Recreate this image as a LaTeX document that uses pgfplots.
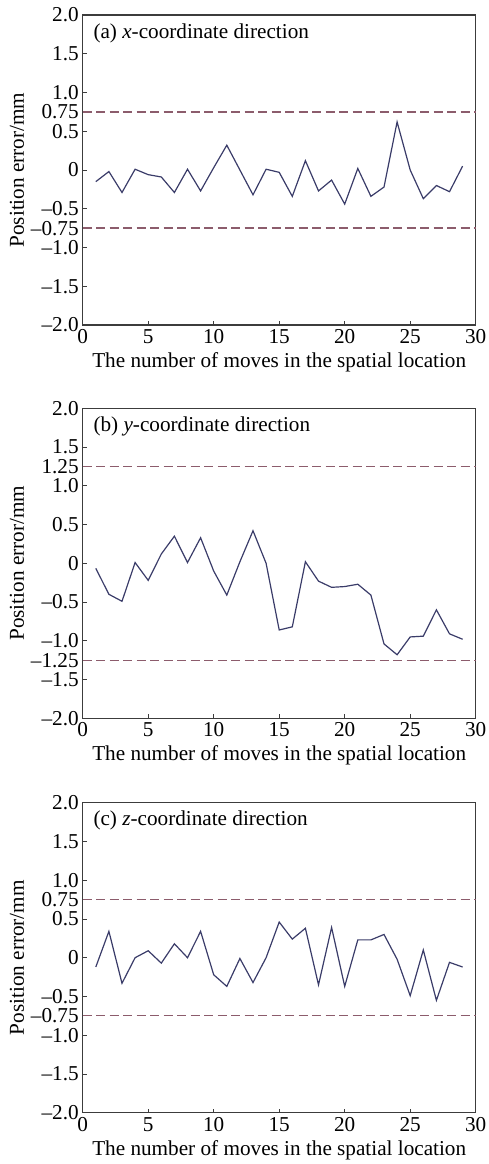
\documentclass[border=0pt]{standalone}
\usepackage{fontspec}
\setmainfont{Liberation Serif}
\usepackage{pgfplots}
\pgfplotsset{compat=1.18}
\definecolor{lineblue}{RGB}{58,60,105}
\definecolor{limitc}{RGB}{140,92,108}
\definecolor{axisgray}{RGB}{60,60,60}
\newcommand{\fs}{\fontsize{21.2}{23}\selectfont}
\pgfplotsset{
  panel/.style={
    scale only axis, width=393pt, height=310pt,
    xmin=0, xmax=30, ymin=-2, ymax=2,
    axis line style={axisgray, line width=1.1pt},
    tick style={axisgray, line width=0.9pt},
    tick align=inside, xtick pos=bottom, ytick pos=left,
    major tick length=4pt,
    xtick={0,5,10,15,20,25,30},
    xticklabels={0,5,10,15,20,25,30},
    tick label style={font=\fs},
    label style={font=\fs},
    xlabel={The number of moves in the spatial location},
    ylabel={Position error/mm},
    xlabel style={at={(axis description cs:0.5,0)}, anchor=north, yshift=-24pt},
    ylabel style={at={(axis description cs:-0.167,0.5)}, anchor=center},
    yticklabel style={xshift=-0.5pt},
    xticklabel style={yshift=-1pt},
    clip=false,
  },
  dataline/.style={lineblue, line width=1.2pt, mark=none},
  limitline/.style={limitc, line width=1.3pt, dash pattern=on 9pt off 4.5pt, mark=none},
}
\begin{document}
\begin{tikzpicture}
\useasboundingbox (0,0) rectangle (488pt,-1164pt);
% ---------- (a)
\begin{axis}[panel, at={(82.7pt,-325pt)}, anchor=south west,
  ytick={-2,-1.5,-1,-0.75,-0.5,0,0.5,0.75,1,1.5,2},
  yticklabels={–2.0,–1.5,–1.0,–0.75,–0.5,0,0.5,0.75,1.0,1.5,2.0}]
\addplot[limitline] coordinates {(0,0.75) (30,0.75)};
\addplot[limitline] coordinates {(0,-0.75) (30,-0.75)};
\addplot[dataline] coordinates {
(1,-0.15) (2,-0.02) (3,-0.29) (4,0.01) (5,-0.06) (6,-0.09) (7,-0.29) (8,0.01)
(9,-0.27) (10,0.03) (11,0.32) (12,0.0) (13,-0.32) (14,0.01) (15,-0.03) (16,-0.34)
(17,0.12) (18,-0.27) (19,-0.13) (20,-0.44) (21,0.02) (22,-0.34) (23,-0.22) (24,0.62)
(25,0.0) (26,-0.37) (27,-0.2) (28,-0.28) (29,0.05)};
\node[anchor=west, inner sep=0pt, font=\fs] at (rel axis cs:0.027,0.942) {(a) \textit{x}-coordinate direction};
\end{axis}
% ---------- (b)
\begin{axis}[panel, at={(82.7pt,-718.3pt)}, anchor=south west,
  ytick={-2,-1.5,-1.25,-1,-0.5,0,0.5,1,1.25,1.5,2},
  yticklabels={–2.0,–1.5,–1.25,–1.0,–0.5,0,0.5,1.0,1.25,1.5,2.0}]
\addplot[limitline] coordinates {(0,1.25) (30,1.25)};
\addplot[limitline] coordinates {(0,-1.25) (30,-1.25)};
\addplot[dataline] coordinates {
(1,-0.065) (2,-0.40) (3,-0.49) (4,0.01) (5,-0.22) (6,0.12) (7,0.35) (8,0.01)
(9,0.33) (10,-0.10) (11,-0.41) (12,0.02) (13,0.42) (14,0.0) (15,-0.86) (16,-0.82)
(17,0.02) (18,-0.23) (19,-0.31) (20,-0.30) (21,-0.27) (22,-0.41) (23,-1.04) (24,-1.18)
(25,-0.95) (26,-0.94) (27,-0.60) (28,-0.91) (29,-0.98)};
\node[anchor=west, inner sep=0pt, font=\fs] at (rel axis cs:0.027,0.942) {(b) \textit{y}-coordinate direction};
\end{axis}
% ---------- (c)
\begin{axis}[panel, at={(82.7pt,-1112.7pt)}, anchor=south west,
  ytick={-2,-1.5,-1,-0.75,-0.5,0,0.5,0.75,1,1.5,2},
  yticklabels={–2.0,–1.5,–1.0,–0.75,–0.5,0,0.5,0.75,1.0,1.5,2.0}]
\addplot[limitline] coordinates {(0,0.75) (30,0.75)};
\addplot[limitline] coordinates {(0,-0.75) (30,-0.75)};
\addplot[dataline] coordinates {
(1,-0.12) (2,0.34) (3,-0.33) (4,0.0) (5,0.09) (6,-0.07) (7,0.18) (8,0.0)
(9,0.34) (10,-0.22) (11,-0.37) (12,-0.01) (13,-0.32) (14,0.0) (15,0.46) (16,0.24)
(17,0.38) (18,-0.35) (19,0.39) (20,-0.37) (21,0.23) (22,0.23) (23,0.30) (24,-0.02)
(25,-0.49) (26,0.10) (27,-0.55) (28,-0.06) (29,-0.12)};
\node[anchor=west, inner sep=0pt, font=\fs] at (rel axis cs:0.027,0.942) {(c) \textit{z}-coordinate direction};
\end{axis}
\end{tikzpicture}
\end{document}
